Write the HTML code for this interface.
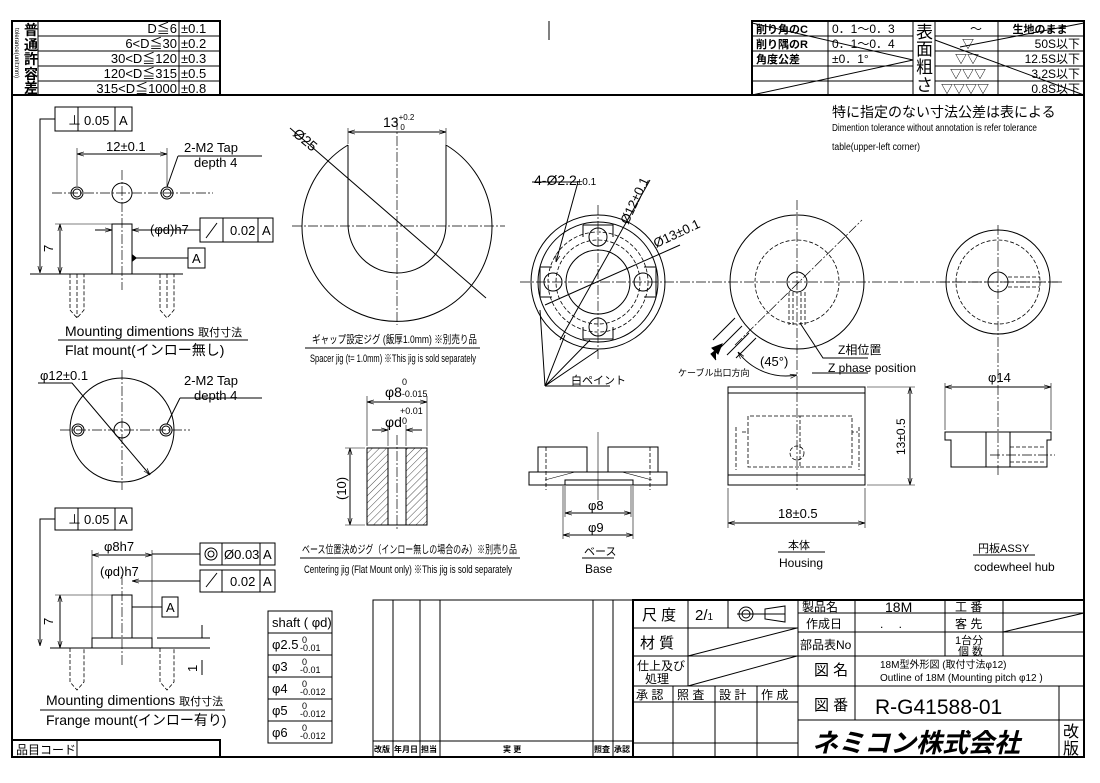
<!DOCTYPE html>
<html><head><meta charset="utf-8"><style>
html,body{margin:0;padding:0;background:#fff}
svg{display:block}
text{font-family:"Liberation Sans","Noto Sans CJK JP",sans-serif;fill:#000}
.l{stroke:#000;fill:none;stroke-width:1}
.b{stroke:#000;fill:none;stroke-width:2}
.c{stroke:#000;fill:none;stroke-width:0.7;stroke-dasharray:10 2 2 2}
.d{stroke:#000;fill:none;stroke-width:0.8;stroke-dasharray:4 2}
.t{stroke:#000;fill:none;stroke-width:0.6}
</style></head><body>
<svg width="1100" height="783" viewBox="0 0 1100 783" xmlns="http://www.w3.org/2000/svg">
<defs>
<marker id="a" viewBox="0 0 10 10" refX="10" refY="5" markerWidth="7" markerHeight="7" orient="auto-start-reverse"><path d="M0,2 L10,5 L0,8" fill="none" stroke="#000"/></marker>
<pattern id="h" width="5" height="5" patternUnits="userSpaceOnUse" patternTransform="rotate(45)"><line x1="0" y1="0" x2="0" y2="5" stroke="#000" stroke-width="0.7"/></pattern>
</defs>
<rect x="12" y="95" width="1072" height="662" class="b"/>
<rect x="12" y="21" width="208" height="74" class="b"/>
<g class="l"><line x1="38" y1="21" x2="38" y2="95"/><line x1="179" y1="21" x2="179" y2="95"/>
<line x1="38" y1="36" x2="220" y2="36"/><line x1="38" y1="51" x2="220" y2="51"/><line x1="38" y1="66" x2="220" y2="66"/><line x1="38" y1="81" x2="220" y2="81"/></g>
<g font-size="13" font-family="Liberation Mono,monospace">
<text x="177" y="33" text-anchor="end">D≦6</text><text x="181" y="33">±0.1</text>
<text x="177" y="48" text-anchor="end">6&lt;D≦30</text><text x="181" y="48">±0.2</text>
<text x="177" y="63" text-anchor="end">30&lt;D≦120</text><text x="181" y="63">±0.3</text>
<text x="177" y="78" text-anchor="end">120&lt;D≦315</text><text x="181" y="78">±0.5</text>
<text x="177" y="93" text-anchor="end">315&lt;D≦1000</text><text x="181" y="93">±0.8</text></g>
<g font-size="14" font-weight="bold"><text x="24" y="35">普</text><text x="24" y="50">通</text><text x="24" y="64">許</text><text x="24" y="79">容</text><text x="24" y="93">差</text></g>
<text x="0" y="0" font-size="6" transform="translate(15,28) rotate(90)">tolerance(unit:mm)</text>
<rect x="752" y="21" width="332" height="74" class="b"/>
<g class="l"><line x1="828" y1="21" x2="828" y2="95"/><line x1="913" y1="21" x2="913" y2="95"/><line x1="935" y1="21" x2="935" y2="95"/><line x1="998" y1="21" x2="998" y2="95"/>
<path d="M752,36H913M752,51H913M752,66H913M752,81H913M935,36H1084M935,51H1084M935,66H1084M935,81H1084"/>
<line x1="752" y1="23" x2="913" y2="60"/><line x1="752" y1="95" x2="913" y2="60"/><line x1="935" y1="40" x2="1084" y2="95"/><line x1="960" y1="47" x2="1084" y2="23"/></g>
<g font-size="11" font-weight="bold"><text x="756" y="33">削り角のC</text><text x="756" y="48">削り隅のR</text><text x="756" y="63">角度公差</text>
<text x="1040" y="33" text-anchor="middle">生地のまま</text></g>
<g font-size="12" font-family="Liberation Mono,monospace"><text x="832" y="33">0．1～0．3</text><text x="832" y="48">0．1～0．4</text><text x="832" y="63">±0．1°</text>
<text x="970" y="33">～</text><text x="962" y="48">▽</text><text x="955" y="63">▽▽</text><text x="950" y="78">▽▽▽</text><text x="941" y="93">▽▽▽▽</text>
<text x="1080" y="48" text-anchor="end">50S以下</text><text x="1080" y="63" text-anchor="end">12.5S以下</text><text x="1080" y="78" text-anchor="end">3.2S以下</text><text x="1080" y="93" text-anchor="end">0.8S以下</text></g>
<g font-size="17"><text x="916" y="38">表</text><text x="916" y="55">面</text><text x="916" y="73">粗</text><text x="916" y="91">さ</text></g>
<text x="832" y="117" font-size="14">特に指定のない寸法公差は表による</text>
<text x="832" y="131" font-size="10" textLength="205" lengthAdjust="spacingAndGlyphs">Dimention tolerance without annotation is refer tolerance</text>
<text x="832" y="150" font-size="10" textLength="88" lengthAdjust="spacingAndGlyphs">table(upper-left corner)</text>
<line x1="549" y1="21" x2="549" y2="40" class="l"/>

<g class="l"><rect x="55" y="107" width="77" height="24"/><line x1="78" y1="107" x2="78" y2="131"/><line x1="115" y1="107" x2="115" y2="131"/>
<polyline points="55,119 40,119 40,273" marker-end="url(#a)"/>
<circle cx="122" cy="193" r="10"/><circle cx="77" cy="193" r="6"/><circle cx="77" cy="193" r="4"/><circle cx="167" cy="193" r="6"/><circle cx="167" cy="193" r="4"/>
<line x1="77" y1="154" x2="167" y2="154" marker-start="url(#a)" marker-end="url(#a)"/><line x1="77" y1="148" x2="77" y2="186" class="t"/><line x1="167" y1="148" x2="167" y2="186" class="t"/>
<rect x="112" y="224" width="20" height="50"/><line x1="30" y1="274" x2="183" y2="274"/>
<line x1="60" y1="224" x2="60" y2="274" marker-start="url(#a)" marker-end="url(#a)"/><line x1="55" y1="224" x2="112" y2="224" class="t"/>
<rect x="200" y="218" width="73" height="24"/><line x1="223" y1="218" x2="223" y2="242"/><line x1="258" y1="218" x2="258" y2="242"/>
<line x1="200" y1="230" x2="132" y2="230" marker-end="url(#a)"/><line x1="95" y1="230" x2="112" y2="230" marker-end="url(#a)"/>
<rect x="188" y="248" width="17" height="20"/><line x1="132" y1="258" x2="188" y2="258"/>
<path d="M178,156 H262 M178,156 L167,187" /><path d="M206,238 L217,223"/>
<line x1="58" y1="340" x2="248" y2="340"/></g>
<path d="M132,254 L137,258 L132,262Z"/>
<g class="c"><line x1="52" y1="193" x2="213" y2="193"/><line x1="122" y1="170" x2="122" y2="290"/></g>
<g class="d"><path d="M70,274V310L77,318L84,310V274M167,274V310M160,274V310L167,318L174,310V274M77,274V318"/></g>
<g font-size="13"><text x="68" y="125">⊥</text><text x="84" y="125">0.05</text><text x="119" y="125">A</text>
<text x="106" y="151">12±0.1</text><text x="184" y="152">2-M2 Tap</text><text x="194" y="167">depth 4</text>
<text x="150" y="234">(φd)h7</text><text x="230" y="235">0.02</text><text x="262" y="235">A</text><text x="192" y="263">A</text>
<text x="0" y="0" transform="translate(53,252) rotate(-90)">7</text>
<text x="65" y="336" font-size="14">Mounting dimentions <tspan font-size="11">取付寸法</tspan></text><text x="65" y="355" font-size="14">Flat mount(インロー無し)</text></g>

<g class="l"><circle cx="122" cy="430" r="52"/><circle cx="122" cy="430" r="8"/><circle cx="78" cy="430" r="6"/><circle cx="78" cy="430" r="4"/><circle cx="166" cy="430" r="6"/><circle cx="166" cy="430" r="4"/>
<path d="M38,383H72L150,475" marker-end="url(#a)"/><path d="M180,398H262M180,398L167,424"/></g>
<g class="c"><line x1="60" y1="430" x2="190" y2="430"/><line x1="122" y1="370" x2="122" y2="490"/></g>
<g font-size="13"><text x="40" y="380">φ12±0.1</text><text x="184" y="385">2-M2 Tap</text><text x="194" y="400">depth 4</text></g>

<g class="l"><rect x="55" y="508" width="77" height="22"/><line x1="78" y1="508" x2="78" y2="530"/><line x1="115" y1="508" x2="115" y2="530"/>
<polyline points="55,519 40,519 40,646" marker-end="url(#a)"/>
<rect x="112" y="595" width="20" height="43"/><rect x="92" y="638" width="60" height="10"/><line x1="50" y1="648" x2="183" y2="648"/>
<line x1="92" y1="555" x2="152" y2="555" marker-start="url(#a)" marker-end="url(#a)"/><line x1="92" y1="550" x2="92" y2="638" class="t"/><line x1="152" y1="550" x2="152" y2="638" class="t"/>
<rect x="200" y="543" width="75" height="22"/><line x1="222" y1="543" x2="222" y2="565"/><line x1="260" y1="543" x2="260" y2="565"/>
<rect x="200" y="570" width="75" height="22"/><line x1="222" y1="570" x2="222" y2="592"/><line x1="260" y1="570" x2="260" y2="592"/>
<line x1="200" y1="554" x2="152" y2="554"/><line x1="200" y1="581" x2="132" y2="581" marker-end="url(#a)"/>
<rect x="162" y="597" width="16" height="20"/><line x1="132" y1="607" x2="162" y2="607"/>
<line x1="60" y1="595" x2="60" y2="648" marker-start="url(#a)" marker-end="url(#a)"/><line x1="55" y1="595" x2="112" y2="595" class="t"/>
<path d="M157,638H210M157,648H210M202,625V638M202,660V675" /><path d="M206,587 L217,573"/>
<line x1="40" y1="710" x2="225" y2="710"/></g>
<circle cx="211" cy="554" r="6" class="l"/><circle cx="211" cy="554" r="3" class="l"/>
<g class="c"><line x1="122" y1="575" x2="122" y2="665"/></g>
<g class="d"><path d="M70,648V682L77,690L84,682V648M160,648V682L167,690L174,682V648"/></g>
<g font-size="13"><text x="68" y="524">⊥</text><text x="84" y="524">0.05</text><text x="119" y="524">A</text>
<text x="104" y="551">φ8h7</text><text x="224" y="559">Ø0.03</text><text x="263" y="559">A</text>
<text x="100" y="576">(φd)h7</text><text x="230" y="586">0.02</text><text x="263" y="586">A</text><text x="166" y="612">A</text>
<text x="0" y="0" transform="translate(53,625) rotate(-90)">7</text><text x="0" y="0" transform="translate(197,672) rotate(-90)">1</text>
<text x="46" y="705" font-size="14">Mounting dimentions <tspan font-size="11">取付寸法</tspan></text><text x="46" y="725" font-size="14">Frange mount(インロー有り)</text></g>

<g class="l"><rect x="268" y="611" width="64" height="132"/><path d="M268,633H332M268,655H332M268,677H332M268,699H332M268,721H332"/></g>
<g font-size="13"><text x="272" y="627">shaft ( φd)</text>
<text x="272" y="649">φ2.5</text><text x="272" y="671">φ3</text><text x="272" y="693">φ4</text><text x="272" y="715">φ5</text><text x="272" y="737">φ6</text></g>
<g font-size="9"><text x="302" y="643">0</text><text x="300" y="651">-0.01</text><text x="302" y="665">0</text><text x="300" y="673">-0.01</text>
<text x="302" y="687">0</text><text x="300" y="695">-0.012</text><text x="302" y="709">0</text><text x="300" y="717">-0.012</text><text x="302" y="731">0</text><text x="300" y="739">-0.012</text></g>

<path class="l" d="M348,145 L348,224 A49,49 0 0 0 446,224 L446,145 A95,95 0 1 1 348,145"/>
<g class="c"><line x1="292" y1="226" x2="505" y2="226"/><line x1="397" y1="120" x2="397" y2="325"/></g>
<g class="l"><line x1="348" y1="132" x2="446" y2="132" marker-start="url(#a)" marker-end="url(#a)"/><line x1="348" y1="128" x2="348" y2="144" class="t"/><line x1="446" y1="128" x2="446" y2="144" class="t"/>
<line x1="290" y1="128" x2="486" y2="298"/><line x1="305" y1="348" x2="480" y2="348"/></g>
<text x="383" y="127" font-size="14">13<tspan font-size="8" dy="-7">+0.2</tspan><tspan font-size="8" dx="-14" dy="10">0</tspan></text>
<text x="0" y="0" font-size="14" transform="translate(292,135) rotate(40)">Ø25</text>
<text x="312" y="343" font-size="11" textLength="165" lengthAdjust="spacingAndGlyphs">ギャップ設定ジグ (飯厚1.0mm) ※別売り品</text>
<text x="310" y="362" font-size="11" textLength="166" lengthAdjust="spacingAndGlyphs">Spacer jig (t= 1.0mm) ※This jig is sold separately</text>

<g class="l"><circle cx="598" cy="282" r="67"/><circle cx="598" cy="282" r="60"/><circle cx="598" cy="282" r="32"/>
<circle cx="598" cy="237" r="9"/><circle cx="598" cy="327" r="9"/><circle cx="553" cy="282" r="9"/><circle cx="643" cy="282" r="9"/>
<path d="M583,225h30v12M583,225v12M583,339h30v-12M583,339v-12M540,267v30h12M540,267h12M656,267v30h-12M656,267h-12"/>
<path d="M532,182H578L556,262" marker-end="url(#a)"/><path d="M545,386L540,310M545,386L565,335M545,386L590,340M545,386L598,350" /><line x1="545" y1="386" x2="610" y2="386"/>
<line x1="560" y1="340" x2="650" y2="180"/><line x1="545" y1="305" x2="680" y2="245"/></g>
<g class="d"><circle cx="598" cy="282" r="50"/><circle cx="598" cy="282" r="42"/></g>
<g class="c"><line x1="520" y1="282" x2="1062" y2="282"/><line x1="598" y1="205" x2="598" y2="360"/></g>
<text x="534" y="185" font-size="14">4-Ø2.2<tspan font-size="10">±0.1</tspan></text>
<text x="0" y="0" font-size="13" transform="translate(628,225) rotate(-65)">Ø12±0.1</text>
<text x="0" y="0" font-size="13" transform="translate(656,248) rotate(-25)">Ø13±0.1</text>
<text x="571" y="384" font-size="11">白ペイント</text>

<rect x="367" y="448" width="21" height="77" fill="url(#h)" stroke="#000"/><rect x="406" y="448" width="21" height="77" fill="url(#h)" stroke="#000"/>
<rect x="367" y="448" width="60" height="77" class="l"/>
<g class="l"><line x1="367" y1="402" x2="427" y2="402" marker-start="url(#a)" marker-end="url(#a)"/><line x1="367" y1="396" x2="367" y2="446" class="t"/><line x1="427" y1="396" x2="427" y2="446" class="t"/>
<line x1="372" y1="430" x2="388" y2="430" marker-end="url(#a)"/><line x1="422" y1="430" x2="406" y2="430" marker-end="url(#a)"/><line x1="388" y1="425" x2="388" y2="446" class="t"/><line x1="406" y1="425" x2="406" y2="446" class="t"/>
<line x1="350" y1="448" x2="350" y2="525" marker-start="url(#a)" marker-end="url(#a)"/><line x1="345" y1="448" x2="365" y2="448" class="t"/><line x1="345" y1="525" x2="365" y2="525" class="t"/>
<line x1="300" y1="558" x2="520" y2="558"/></g>
<line x1="397" y1="435" x2="397" y2="530" class="c"/>
<text x="385" y="397" font-size="14">φ8<tspan font-size="9">-0.015</tspan></text><text x="402" y="385" font-size="9">0</text>
<text x="385" y="427" font-size="14">φd</text><text x="400" y="414" font-size="9">+0.01</text><text x="402" y="424" font-size="9">0</text>
<text x="0" y="0" font-size="13" transform="translate(346,500) rotate(-90)">(10)</text>
<text x="302" y="553" font-size="11" textLength="215" lengthAdjust="spacingAndGlyphs">ベース位置決めジグ（インロー無しの場合のみ）※別売り品</text>
<text x="304" y="573" font-size="11" textLength="208" lengthAdjust="spacingAndGlyphs">Centering jig (Flat Mount only) ※This jig is sold separately</text>

<g class="l"><rect x="538" y="447" width="49" height="25"/><rect x="608" y="447" width="50" height="25"/>
<rect x="529" y="472" width="138" height="13"/><rect x="565" y="480" width="68" height="5"/>
<line x1="565" y1="513" x2="631" y2="513" marker-start="url(#a)" marker-end="url(#a)"/><line x1="563" y1="535" x2="633" y2="535" marker-start="url(#a)" marker-end="url(#a)"/>
<line x1="565" y1="486" x2="565" y2="517" class="t"/><line x1="631" y1="486" x2="631" y2="517" class="t"/><line x1="563" y1="486" x2="563" y2="539" class="t"/><line x1="633" y1="486" x2="633" y2="539" class="t"/>
<line x1="582" y1="558" x2="614" y2="558"/><path d="M545,480L575,472H622L652,480" class="t"/></g>
<g class="d"><line x1="546" y1="447" x2="546" y2="490"/><line x1="650" y1="447" x2="650" y2="490"/></g>
<line x1="598" y1="432" x2="598" y2="500" class="t"/>
<text x="588" y="510" font-size="13">φ8</text><text x="588" y="532" font-size="13">φ9</text>
<text x="584" y="555" font-size="11">ベース</text><text x="585" y="573" font-size="12">Base</text>

<g class="l"><circle cx="797" cy="282" r="67"/><circle cx="797" cy="282" r="10"/>
<path d="M735,318L713,340M742,326L720,348M749,333L727,355M756,338L736,358"/>
<path d="M800,323L823,358H868" /><line x1="812" y1="373" x2="868" y2="373"/>
<path d="M738,352 A60,60 0 0 0 797,375" marker-start="url(#a)" marker-end="url(#a)"/>
<rect x="728" y="387" width="137" height="98"/><line x1="728" y1="393" x2="865" y2="393"/><line x1="728" y1="475" x2="865" y2="475"/>
<line x1="910" y1="387" x2="910" y2="485" marker-start="url(#a)" marker-end="url(#a)"/><path d="M867,387H915M867,485H915" class="t"/>
<line x1="728" y1="523" x2="865" y2="523" marker-start="url(#a)" marker-end="url(#a)"/><path d="M728,488V528M865,488V528" class="t"/>
<line x1="778" y1="552" x2="825" y2="552"/></g>
<path d="M712,348l10,-4l-4,10z M716,360l-5,-6l5,-4" fill="#000" stroke="#000"/>
<g class="d"><circle cx="797" cy="282" r="42"/><path d="M789,292V325M805,292V325M793,292V325M801,292V325"/>
<path d="M742,432H748V416H800V467H748V432M800,416H852V432H858V432M800,467H852V432"/><path d="M736,427V470M859,427V470"/><circle cx="797" cy="453" r="7"/></g>
<g class="c"><line x1="797" y1="200" x2="797" y2="490"/><line x1="735" y1="345" x2="862" y2="220"/></g>
<text x="838" y="354" font-size="12">Z相位置</text><text x="828" y="372" font-size="12">Z phase position</text>
<text x="760" y="366" font-size="13">(45°)</text><text x="678" y="376" font-size="9">ケーブル出口方向</text>
<text x="0" y="0" font-size="12" transform="translate(905,455) rotate(-90)">13±0.5</text>
<text x="778" y="518" font-size="13">18±0.5</text>
<text x="788" y="549" font-size="11">本体</text><text x="779" y="567" font-size="12">Housing</text>

<g class="l"><circle cx="998" cy="282" r="52"/><circle cx="998" cy="282" r="10"/>
<line x1="945" y1="387" x2="1051" y2="387" marker-start="url(#a)" marker-end="url(#a)"/><path d="M945,383V430M1051,383V430" class="t"/>
<path d="M945,432H1051V440H1047V467H951V440H945Z"/><line x1="986" y1="432" x2="986" y2="467"/><line x1="1010" y1="432" x2="1010" y2="467"/>
<line x1="973" y1="555" x2="1035" y2="555"/></g>
<g class="d"><circle cx="998" cy="282" r="42"/><path d="M1008,277H1040M1008,287H1040M1010,447H1045M1010,462H1045"/></g>
<g class="c"><line x1="940" y1="282" x2="1060" y2="282"/><line x1="998" y1="225" x2="998" y2="475"/><line x1="990" y1="455" x2="1055" y2="455"/></g>
<text x="988" y="382" font-size="13">φ14</text>
<text x="978" y="552" font-size="11">円板ASSY</text><text x="974" y="571" font-size="12">codewheel hub</text>

<rect x="12" y="740" width="208" height="17" class="b"/><line x1="77" y1="740" x2="77" y2="757" class="l"/>
<text x="16" y="754" font-size="12">品目コード</text>

<g class="l"><rect x="373" y="600" width="260" height="157"/><path d="M393,600V757M420,600V757M440,600V757M593,600V757M613,600V757M373,741H633"/></g>
<g font-size="8" font-weight="bold"><text x="374" y="752">改版</text><text x="394" y="752">年月日</text><text x="421" y="752">担当</text><text x="503" y="752">実 更</text><text x="594" y="752">照査</text><text x="614" y="752">承認</text></g>

<rect x="633" y="600" width="451" height="157" class="b"/>
<g class="l"><path d="M633,628H798M633,656H798M633,686H798M633,702H798M633,743H798M688,600V686M728,600V628M673,686V757M715,686V757M757,686V757M798,600V757"/>
<path d="M798,613H1084M798,632H1084M798,656H1084M798,686H1084M798,720H1084M855,600V720M945,600V656M1003,600V656M1059,686V757"/>
<line x1="688" y1="656" x2="797" y2="628"/><line x1="688" y1="686" x2="797" y2="656"/><line x1="1003" y1="632" x2="1084" y2="613"/>
<circle cx="746" cy="614" r="7"/><circle cx="746" cy="614" r="4"/><path d="M737,614H785M765,609L785,606V622L765,619Z"/></g>
<g font-size="15"><text x="642" y="620">尺 度</text><text x="640" y="648">材 質</text><text x="695" y="620">2/<tspan font-size="10">1</tspan></text>
<text x="814" y="675">図 名</text><text x="814" y="710">図 番</text></g>
<g font-size="12"><text x="637" y="670">仕上及び</text><text x="645" y="683">処理</text>
<text x="636" y="699">承 認</text><text x="677" y="699">照 査</text><text x="719" y="699">設 計</text><text x="761" y="699">作 成</text>
<text x="802" y="611">製品名</text><text x="806" y="628">作成日</text><text x="800" y="649">部品表No</text>
<text x="955" y="611">工 番</text><text x="955" y="628">客 先</text><text x="955" y="644" font-size="11">1台分</text><text x="958" y="655" font-size="11">個 数</text></g>
<text x="885" y="612" font-size="14">18M</text><text x="880" y="628" font-size="12">.　 .</text>
<text x="880" y="668" font-size="10">18M型外形図 (取付寸法φ12)</text><text x="880" y="681" font-size="10">Outline of 18M (Mounting pitch φ12 )</text>
<text x="875" y="714" font-size="21">R-G41588-01</text>
<text x="812" y="752" font-size="26" font-weight="bold" font-style="italic">ネミコン株式会社</text>
<text x="1063" y="737" font-size="16">改</text><text x="1063" y="754" font-size="16">版</text>
</svg>
</body></html>
